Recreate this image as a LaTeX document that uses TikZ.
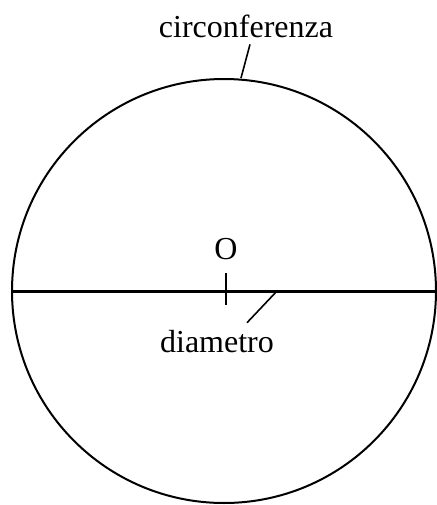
\documentclass[tikz,border=0pt]{standalone}
\usepackage{fontspec}
\setmainfont{Liberation Serif}

\begin{document}
\begin{tikzpicture}
    [x=0.5pt,y=-0.5pt,
     label text/.style={anchor=base,font=\fontsize{16}{19}\selectfont},
     leader/.style={line width=0.8pt}]
    \useasboundingbox (0,0) rectangle (436,505);
    %circle and centre
    \coordinate (C) at (224,291);
    \draw[line width=1pt] (C) circle[radius=106pt];
    %diameter
    \coordinate (A) at (12,291);
    \coordinate (B) at (436,291);
    \draw[line width=1.5pt] (A)--(B);
    \draw[line width=1pt] ([xshift=1pt,yshift=9pt]C)--([xshift=1pt,yshift=-7pt]C);
    %labels
    \node[label text] (O) at (226,259) {O};
    \node[label text] (circ) at (246,37) {circonferenza};
    \node[label text] (diam) at (217,352) {diametro};
    %leaders
    \coordinate (top) at (241,78);
    \coordinate (dpt) at (277,291);
    \draw[leader] (top)--([xshift=2pt]circ.south);
    \draw[leader] (dpt)--([xshift=15pt]diam.north);
\end{tikzpicture}
\end{document}
